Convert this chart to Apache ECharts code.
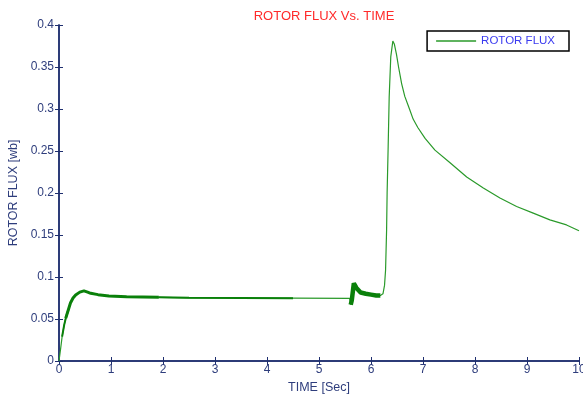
<!DOCTYPE html>
<html>
<head>
<meta charset="utf-8">
<script src="https://cdn.jsdelivr.net/npm/echarts@6/dist/echarts.min.js"></script>
<style>html,body{margin:0;padding:0;background:#fff}#c{width:583px;height:394px}</style>
</head>
<body>
<div id="c"></div>
<script>
var timeSec = [0,0.03,0.06,0.1,0.13,0.18,0.22,0.27,0.32,0.4,0.48,0.55,0.61,0.75,0.96,1.3,1.92,2.5,3.5,4.5,5.59,5.61,5.63,5.67,5.72,5.8,5.9,6.0,6.1,6.18,6.23,6.26,6.28,6.3,6.31,6.33,6.35,6.38,6.42,6.45,6.49,6.53,6.59,6.65,6.74,6.81,6.9,7.04,7.23,7.52,7.84,8.16,8.48,8.8,9.12,9.44,9.76,10];
var rotorFlux = [0,0.014,0.029,0.043,0.051,0.061,0.069,0.075,0.0786,0.082,0.0835,0.082,0.0806,0.079,0.0774,0.0765,0.0758,0.0752,0.075,0.0748,0.0746,0.067,0.072,0.0925,0.087,0.0815,0.08,0.079,0.078,0.078,0.08,0.09,0.108,0.156,0.2,0.255,0.315,0.362,0.381,0.377,0.365,0.35,0.33,0.315,0.3,0.288,0.278,0.265,0.251,0.236,0.219,0.206,0.194,0.184,0.176,0.168,0.162,0.155];
var xTicks = [0,1,2,3,4,5,6,7,8,9,10];
var yTicks = [0,0.05,0.1,0.15,0.2,0.25,0.3,0.35,0.4];

function pts(a, b) {
  var out = [];
  for (var i = 0; i < timeSec.length; i++) {
    if (timeSec[i] >= a && timeSec[i] <= b) out.push([timeSec[i], rotorFlux[i]]);
  }
  return out;
}
var mainData = pts(0, 10);
var thin1 = pts(0.06, 0.18);
var thick1 = pts(0.13, 1.92);
var thick2 = pts(1.92, 4.5);
var thick3 = pts(5.61, 6.18);

var axisCol = '#1f2f6f';
var labCol = '#2e3d7c';
var font = 'Liberation Sans, Arial, sans-serif';
var chart = echarts.init(document.getElementById('c'));
chart.setOption({
  animation: false,
  backgroundColor: '#fff',
  title: {
    text: 'ROTOR FLUX Vs. TIME', left: 319, top: 5, textAlign: 'center',
    textStyle: {color: '#ff2a2a', fontSize: 13, fontWeight: 'normal', fontFamily: font}
  },
  legend: {
    right: 14, top: 31, padding: [4, 14, 4, 9],
    borderColor: '#000', borderWidth: 1.5, borderRadius: 0,
    itemWidth: 40, itemHeight: 1.5, itemGap: 5,
    data: [{name: 'ROTOR FLUX', icon: 'rect', itemStyle: {color: '#2a9a2a'}}],
    textStyle: {color: '#3b3bf0', fontSize: 11.5, fontFamily: font}
  },
  grid: {left: 59, right: 4, top: 25, bottom: 33, outerBoundsMode: 'none', containLabel: false},
  xAxis: [{
    type: 'value', min: 0, max: 10, interval: 1,
    name: 'TIME [Sec]', nameLocation: 'middle', nameGap: 18,
    nameTextStyle: {color: labCol, fontSize: 12.5, fontFamily: font},
    axisLine: {show: true, lineStyle: {color: axisCol, width: 1.5}},
    axisTick: {inside: true, length: 4, lineStyle: {color: axisCol}},
    axisLabel: {color: labCol, fontSize: 12, fontFamily: font, margin: 3},
    splitLine: {show: false}
  }, {
    type: 'value', min: 0, max: 10, interval: 1, position: 'top',
    axisLine: {show: true, lineStyle: {color: axisCol, width: 1.5}},
    axisTick: {inside: true, length: 4, lineStyle: {color: axisCol}},
    axisLabel: {show: false}, splitLine: {show: false}
  }],
  yAxis: [{
    type: 'value', min: 0, max: 0.4, interval: 0.05,
    name: 'ROTOR FLUX [wb]', nameLocation: 'middle', nameGap: 38,
    nameTextStyle: {color: labCol, fontSize: 12.5, fontFamily: font},
    axisLine: {show: true, lineStyle: {color: axisCol, width: 1.5}},
    axisTick: {inside: true, length: 4, lineStyle: {color: axisCol}},
    axisLabel: {color: labCol, fontSize: 12, fontFamily: font, margin: 5},
    splitLine: {show: false}
  }, {
    type: 'value', min: 0, max: 0.4, interval: 0.05, position: 'right',
    axisLine: {show: true, lineStyle: {color: axisCol, width: 1.5}},
    axisTick: {inside: true, length: 4, lineStyle: {color: axisCol}},
    axisLabel: {show: false}, splitLine: {show: false}
  }],
  series: [
    {name: 'ROTOR FLUX', type: 'line', data: mainData, showSymbol: false, symbol: 'none',
     lineStyle: {color: '#2a9a2a', width: 1.2}, itemStyle: {color: '#2a9a2a'}},
    {name: 'band0', type: 'line', data: thin1, symbol: 'none', lineStyle: {color: '#0a800a', width: 2}},
    {name: 'band1', type: 'line', data: thick1, symbol: 'none', lineStyle: {color: '#0a800a', width: 3}},
    {name: 'band2', type: 'line', data: thick2, symbol: 'none', lineStyle: {color: '#0a800a', width: 2}},
    {name: 'band3', type: 'line', data: thick3, symbol: 'none', lineStyle: {color: '#0a800a', width: 4.5}}
  ]
});
</script>
</body>
</html>
